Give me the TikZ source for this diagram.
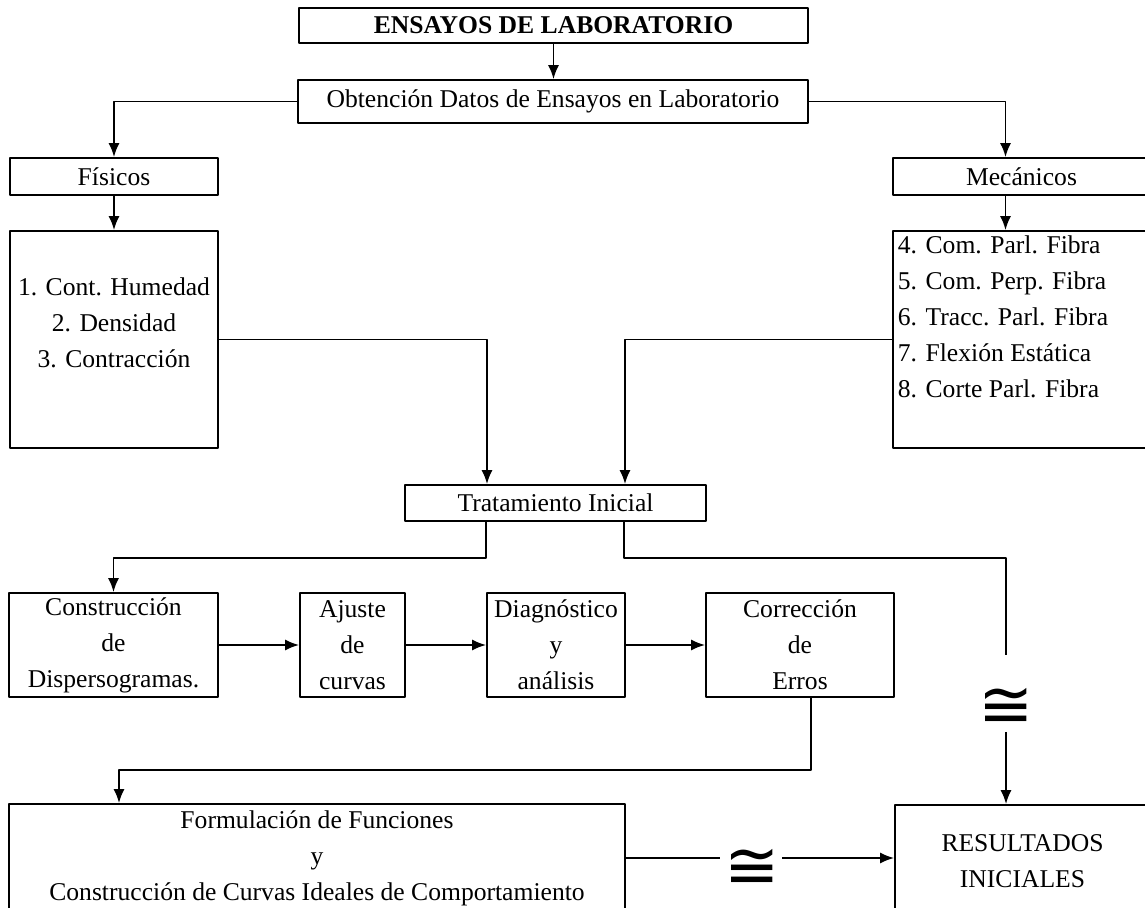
\documentclass[tikz,border=0pt]{standalone}
\usepackage{fontspec}
\setmainfont{Liberation Serif}
\newfontfamily\simbolo{DejaVu Sans}
\usetikzlibrary{arrows.meta}
\newcommand{\txtsize}{\fontsize{12.8bp}{18bp}\selectfont}
\begin{document}
\begin{tikzpicture}[>={Latex[length=7bp,width=5.5bp]},line join=bevel,line width=0.9bp,
  caja/.style={draw,inner sep=0pt,align=center,font=\txtsize},
  texto/.style={inner sep=0pt,font=\txtsize},
  aprox/.style={inner sep=0pt,font=\simbolo\fontsize{33bp}{33bp}\selectfont}]
\useasboundingbox (0bp,0bp) rectangle (572.5bp,454bp);
%%
\node (titulo) at (276.75bp,441.25bp) [caja,minimum width=254.5bp,minimum height=17.5bp] {\textbf{ENSAYOS DE LABORATORIO}};
  \node (obtencion) at (276.5bp,403.25bp) [caja,minimum width=255bp,minimum height=21.5bp] {Obtención Datos de Ensayos en Laboratorio};
  \node (fisicos) at (57bp,365.75bp) [caja,minimum width=104bp,minimum height=18.5bp] {Físicos};
  \node (mecanicos) at (510.75bp,365.75bp) [caja,minimum width=128.5bp,minimum height=18.5bp] {Mecánicos};
  \node (cajafis) at (57bp,284.25bp) [caja,minimum width=104bp,minimum height=108.5bp] {};
  \node (listafis) at (57bp,292.75bp) [texto,align=center] {1. Cont. Humedad\\2. Densidad\\3. Contracción};
  \node (cajamec) at (510.75bp,284.25bp) [caja,minimum width=128.5bp,minimum height=108.5bp] {};
  \node (listamec) at (448.5bp,295.5bp) [texto,align=left,anchor=west] {4. Com. Parl. Fibra\\5. Com. Perp. Fibra\\6. Tracc. Parl. Fibra\\7. Flexión Estática\\8. Corte Parl. Fibra};
  \node (tratamiento) at (277.75bp,202.5bp) [caja,minimum width=150.5bp,minimum height=18bp] {Tratamiento Inicial};
  \node (construccion) at (56.75bp,131.5bp) [caja,minimum width=104.5bp,minimum height=52bp] {Construcción\\de\\Dispersogramas.};
  \node (ajuste) at (176.25bp,131.5bp) [caja,minimum width=52.5bp,minimum height=52bp] {Ajuste\\de\\curvas};
  \node (diagnostico) at (278bp,131.5bp) [caja,minimum width=69bp,minimum height=52bp] {Diagnóstico\\y\\análisis};
  \node (correccion) at (400bp,131.5bp) [caja,minimum width=94bp,minimum height=52bp] {Corrección\\de\\Erros};
  \node (formulacion) at (158.5bp,25bp) [caja,minimum width=308bp,minimum height=54bp] {Formulación de Funciones\\y\\Construcción de Curvas Ideales de Comportamiento};
  \node (resultados) at (511.25bp,23.5bp) [caja,minimum width=127.5bp,minimum height=56bp] {RESULTADOS\\INICIALES};
  \node (aproxA) at (503bp,100bp) [aprox] {≅};
  \node (aproxB) at (376bp,19.5bp) [aprox] {≅};
  \coordinate (corteA) at (503bp,126.5bp);
  \coordinate (corteB) at (503bp,88bp);
  \coordinate (corteC) at (360bp,25bp);
  \coordinate (corteD) at (391bp,25bp);
%
  \draw [black,->] (titulo.south) -- (titulo.south |- obtencion.north);
  \draw [black,->] (obtencion.west) -| (fisicos.north);
  \draw [black,->] (obtencion.east) -| ([xshift=-8bp]mecanicos.north);
  \draw [black,->] (fisicos) -- (cajafis);
  \draw [black,->] ([xshift=-8bp]mecanicos.south) -- ([xshift=-8bp]cajamec.north);
  \draw [black,->] (cajafis.east) -| ([xshift=-34.25bp]tratamiento.north);
  \draw [black,->] (cajamec.west) -| ([xshift=34.75bp]tratamiento.north);
  \draw [black,->] ([xshift=-34.75bp]tratamiento.south) -- ++(0,-18bp) -| (construccion.north);
  \draw [black] ([xshift=34.25bp]tratamiento.south) -- ++(0,-18bp) -| (corteA);
  \draw [black,->] (corteB) -- (corteB |- resultados.north);
  \draw [black,->] (construccion) -- (ajuste);
  \draw [black,->] (ajuste) -- (diagnostico);
  \draw [black,->] (diagnostico) -- (correccion);
  \draw [black,->] ([xshift=5.5bp]correccion.south) -- ++(0,-36bp) -| ([xshift=-99bp]formulacion.north);
  \draw [black] (formulacion.east |- corteC) -- (corteC);
  \draw [black,->] (corteD) -- (corteD -| resultados.west);
%
\end{tikzpicture}
\end{document}
